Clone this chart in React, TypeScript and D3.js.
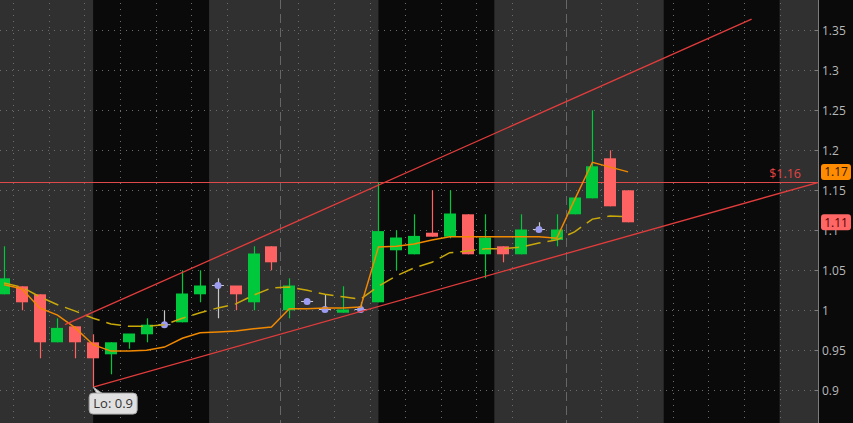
import React, { useEffect, useRef } from 'react';
import * as d3 from 'd3';

// hourly bars, index 0 = first visible bar
const opens = [1.02, 1.03, 1.02, 0.96, 0.98, 0.96, 0.945, 0.96, 0.97, 0.982, 0.985, 1.02, 1.031, 1.031, 1.01, 1.08, 1.0, 1.011, 1.001, 0.997, 1.001, 1.01, 1.075, 1.07, 1.097, 1.092, 1.12, 1.07, 1.08, 1.07, 1.101, 1.088, 1.12, 1.14, 1.19, 1.15];
const highs = [1.08, 1.03, 1.02, 0.99, 0.98, 0.97, 0.96, 0.97, 0.99, 1.0, 1.05, 1.05, 1.04, 1.03, 1.08, 1.08, 1.04, 1.011, 1.02, 1.03, 1.01, 1.16, 1.1, 1.12, 1.15, 1.15, 1.12, 1.12, 1.08, 1.12, 1.11, 1.12, 1.14, 1.25, 1.2, 1.15];
const lows = [1.02, 1.0, 0.94, 0.96, 0.94, 0.904, 0.92, 0.952, 0.96, 0.982, 0.985, 1.01, 0.99, 1.0, 1.0, 1.05, 0.99, 1.011, 1.001, 0.997, 1.001, 1.01, 1.05, 1.07, 1.092, 1.09, 1.07, 1.04, 1.06, 1.07, 1.101, 1.08, 1.12, 1.14, 1.13, 1.11];
const closes = [1.04, 1.01, 0.96, 0.978, 0.96, 0.94, 0.96, 0.971, 0.982, 0.982, 1.021, 1.031, 1.031, 1.02, 1.071, 1.06, 1.031, 1.011, 1.001, 1.001, 1.001, 1.099, 1.091, 1.093, 1.092, 1.121, 1.07, 1.091, 1.07, 1.101, 1.101, 1.101, 1.141, 1.18, 1.13, 1.11];

// moving averages
const fastMa = [1.032, 1.027, 1.003, 0.994, 0.978, 0.957, 0.949, 0.949, 0.95, 0.954, 0.965, 0.972, 0.973, 0.974, 0.977, 0.979, 1.002, 1.002, 1.003, 1.003, 1.004, 1.079, 1.08, 1.083, 1.088, 1.092, 1.092, 1.092, 1.092, 1.092, 1.092, 1.09, 1.138, 1.185, 1.179, 1.173];
const slowMa = [1.034, 1.029, 1.017, 1.007, 0.999, 0.99, 0.983, 0.98, 0.98, 0.982, 0.99, 0.997, 1.003, 1.008, 1.019, 1.028, 1.029, 1.025, 1.02, 1.017, 1.014, 1.03, 1.043, 1.053, 1.06, 1.072, 1.074, 1.077, 1.077, 1.079, 1.084, 1.088, 1.098, 1.114, 1.118, 1.117];

const priceTicks = [0.9, 0.95, 1, 1.05, 1.1, 1.15, 1.2, 1.25, 1.3, 1.35];

// extended-hours shading, in bar index units
const extStarts = [-1, 11.5, 27.5, 43.5];
const extEnds = [5, 21, 37, 47];
const timeGrid = [0.5, 2.5, 4.5, 6.5, 8.5, 10.5, 12.5, 16.5, 18.5, 20.5, 22.5, 24.5, 26.5, 28.5, 33.5, 35.5, 37.5, 39.5, 41.5, 43.5];
const daySeparators = [15.5, 31.5];

// drawn trendlines [index, price]
const upperTrend: [number, number][] = [[3.42, 0.982], [41.93, 1.364]];
const lowerTrend: [number, number][] = [[5, 0.904], [45.69, 1.16]];
const priceLevel = 1.16;

const W = 853;
const H = 423;
const AXIS_X = 818.5;

const GREEN = '#00c83c';
const RED = '#ff6262';

const App: React.FC = () => {
  const svgRef = useRef<SVGSVGElement>(null);

  useEffect(() => {
    if (!svgRef.current) return;
    const svg = d3.select(svgRef.current);
    svg.selectAll('*').remove();

    const x = d3.scaleLinear().domain([0, 35]).range([4, 628.05]);
    const y = d3.scaleLinear().domain([0.9, 1.35]).range([390.3, 30.3]);
    const clamp = (v: number) => Math.max(0, Math.min(AXIS_X, v));

    svg.append('rect').attr('width', W).attr('height', H).attr('fill', '#0a0a0a');

    svg.append('defs').append('clipPath').attr('id', 'plot')
      .append('rect').attr('width', AXIS_X).attr('height', H);

    const plot = svg.append('g').attr('clip-path', 'url(#plot)');

    // extended hours bands
    plot.selectAll('rect.ext')
      .data(d3.range(extStarts.length))
      .enter()
      .append('rect')
      .attr('class', 'ext')
      .attr('x', (i) => clamp(x(extStarts[i])))
      .attr('width', (i) => clamp(x(extEnds[i])) - clamp(x(extStarts[i])))
      .attr('y', 0)
      .attr('height', H)
      .attr('fill', '#303030');

    // dotted grid
    plot.selectAll('line.hgrid')
      .data(priceTicks)
      .enter()
      .append('line')
      .attr('x1', 0).attr('x2', AXIS_X)
      .attr('y1', (d) => Math.round(y(d)) + 0.5)
      .attr('y2', (d) => Math.round(y(d)) + 0.5)
      .attr('stroke', '#6c6c6c')
      .attr('stroke-dasharray', '1,5');

    plot.selectAll('line.vgrid')
      .data(timeGrid)
      .enter()
      .append('line')
      .attr('x1', (d) => Math.round(x(d)) + 0.5)
      .attr('x2', (d) => Math.round(x(d)) + 0.5)
      .attr('y1', 3).attr('y2', H)
      .attr('stroke', '#6c6c6c')
      .attr('stroke-dasharray', '1,5');

    plot.selectAll('line.sep')
      .data(daySeparators)
      .enter()
      .append('line')
      .attr('x1', (d) => Math.round(x(d)) + 0.5)
      .attr('x2', (d) => Math.round(x(d)) + 0.5)
      .attr('y1', 0).attr('y2', H)
      .attr('stroke', '#666')
      .attr('stroke-dasharray', '9,5');

    // price level line
    const levelY = Math.round(y(priceLevel)) + 0.5;
    plot.append('line')
      .attr('x1', 0).attr('x2', AXIS_X)
      .attr('y1', levelY).attr('y2', levelY)
      .attr('stroke', '#de4a4a')
      .attr('stroke-width', 1);

    // candles
    const bars = d3.range(opens.length);
    const bodyW = 12;
    const isDoji = (i: number) => Math.abs(closes[i] - opens[i]) < 0.0015 && opens[i] !== 0.997;
    const colorOf = (i: number) => (isDoji(i) ? '#c8c8c8' : closes[i] >= opens[i] ? GREEN : RED);

    plot.selectAll('line.wick')
      .data(bars)
      .enter()
      .append('line')
      .attr('x1', (i) => Math.round(x(i)) + 0.5)
      .attr('x2', (i) => Math.round(x(i)) + 0.5)
      .attr('y1', (i) => y(highs[i]))
      .attr('y2', (i) => y(lows[i]))
      .attr('stroke', colorOf)
      .attr('stroke-width', 1.2);

    const solid = bars.filter((i) => !isDoji(i));
    plot.selectAll('rect.body')
      .data(solid)
      .enter()
      .append('rect')
      .attr('x', (i) => Math.round(x(i)) - bodyW / 2)
      .attr('width', bodyW)
      .attr('y', (i) => y(Math.max(opens[i], closes[i])))
      .attr('height', (i) => Math.max(2.5, Math.abs(y(opens[i]) - y(closes[i]))))
      .attr('fill', colorOf);

    const dojis = bars.filter(isDoji);
    plot.selectAll('line.dojiTick')
      .data(dojis)
      .enter()
      .append('line')
      .attr('x1', (i) => x(i) - bodyW / 2)
      .attr('x2', (i) => x(i) + bodyW / 2)
      .attr('y1', (i) => y(closes[i]))
      .attr('y2', (i) => y(closes[i]))
      .attr('stroke', '#c8c8c8');
    plot.selectAll('circle.doji')
      .data(dojis)
      .enter()
      .append('circle')
      .attr('cx', (i) => x(i))
      .attr('cy', (i) => y(closes[i]))
      .attr('r', 3.5)
      .attr('fill', '#9c9cf2');

    // moving averages
    const maLine = (vals: number[]) =>
      d3.line<number>().x((_, i) => x(i)).y((v) => y(v))(vals);

    plot.append('path')
      .attr('d', maLine(slowMa))
      .attr('fill', 'none')
      .attr('stroke', '#c9a90a')
      .attr('stroke-width', 1.5)
      .attr('stroke-dasharray', '15,7');

    plot.append('path')
      .attr('d', maLine(fastMa))
      .attr('fill', 'none')
      .attr('stroke', '#f08800')
      .attr('stroke-width', 1.5);

    // trendlines
    [upperTrend, lowerTrend].forEach((pts) => {
      plot.append('line')
        .attr('x1', x(pts[0][0])).attr('y1', y(pts[0][1]))
        .attr('x2', x(pts[1][0])).attr('y2', y(pts[1][1]))
        .attr('stroke', '#e23c3c')
        .attr('stroke-width', 1.3);
    });

    svg.append('text')
      .attr('x', 801)
      .attr('y', 178)
      .attr('text-anchor', 'end')
      .attr('font-family', 'Open Sans, sans-serif')
      .attr('font-size', 12.5)
      .attr('fill', '#e24444')
      .text(`$${priceLevel.toFixed(2)}`);

    // right axis
    svg.append('line')
      .attr('x1', AXIS_X).attr('x2', AXIS_X)
      .attr('y1', 0).attr('y2', H)
      .attr('stroke', '#7c7c7c');

    const ticks = svg.selectAll('g.tick')
      .data(priceTicks)
      .enter()
      .append('g')
      .attr('transform', (d) => `translate(0,${Math.round(y(d)) + 0.5})`);
    ticks.append('line')
      .attr('x1', AXIS_X - 4).attr('x2', AXIS_X)
      .attr('stroke', '#7c7c7c');
    ticks.append('text')
      .attr('x', 822)
      .attr('dy', '0.36em')
      .attr('font-family', 'Open Sans, sans-serif')
      .attr('font-size', 12)
      .attr('fill', '#b9b9b9')
      .text((d) => `${+d.toFixed(2)}`);

    // price bubbles
    const bubbles = [
      { v: fastMa[fastMa.length - 1], fill: '#ff8c00', text: '#2a1400' },
      { v: closes[closes.length - 1], fill: '#ff6666', text: '#520000' },
    ];
    const bub = svg.selectAll('g.bubble')
      .data(bubbles)
      .enter()
      .append('g')
      .attr('transform', (d) => `translate(821,${y(d.v)})`);
    bub.append('rect')
      .attr('x', 0).attr('y', -8)
      .attr('width', 30).attr('height', 16)
      .attr('rx', 3)
      .attr('fill', (d) => d.fill);
    bub.append('text')
      .attr('x', 15)
      .attr('dy', '0.36em')
      .attr('text-anchor', 'middle')
      .attr('font-family', 'Open Sans, sans-serif')
      .attr('font-size', 12)
      .attr('fill', (d) => d.text)
      .text((d) => d.v.toFixed(2));

    // low callout
    const loX = x(lowerTrend[0][0]);
    const loY = y(lowerTrend[0][1]);
    const lo = svg.append('g');
    lo.append('path')
      .attr('d', `M${loX},${loY} L${loX + 4},${loY + 7} L${loX + 10},${loY + 7} Z`)
      .attr('fill', '#e0e0e0')
      .attr('stroke', '#a8a8a8');
    lo.append('rect')
      .attr('x', loX - 4).attr('y', loY + 6)
      .attr('width', 48).attr('height', 21)
      .attr('rx', 4)
      .attr('fill', '#e0e0e0')
      .attr('stroke', '#a8a8a8');
    lo.append('text')
      .attr('x', loX + 20)
      .attr('y', loY + 16.5)
      .attr('dy', '0.36em')
      .attr('text-anchor', 'middle')
      .attr('font-family', 'Open Sans, sans-serif')
      .attr('font-size', 13)
      .attr('fill', '#333')
      .text('Lo: 0.9');
  }, []);

  return (
    <div style={{ position: 'fixed', left: 0, top: 0, width: W, height: H }}>
      <svg ref={svgRef} width={W} height={H} style={{ display: 'block' }} />
    </div>
  );
};

export default App;
